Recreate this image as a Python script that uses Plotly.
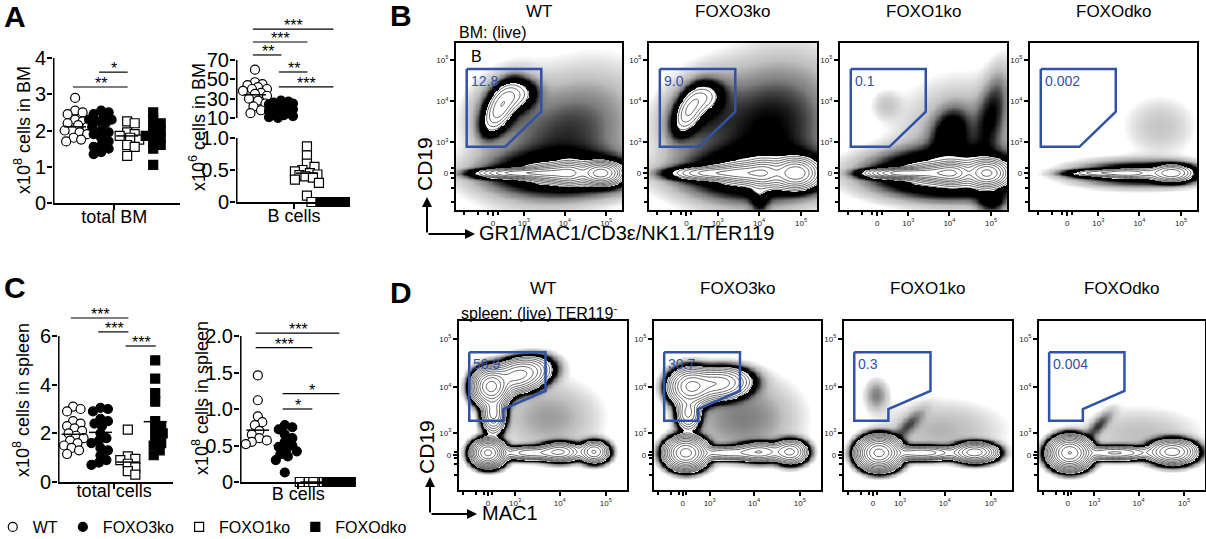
import numpy as np
import plotly.graph_objects as go

W, H = 1206, 539
FONT = "Liberation Sans, Arial, sans-serif"
BLUE = "#3053a8"

groups = ["WT", "FOXO3ko", "FOXO1ko", "FOXOdko"]

# A: bone marrow, total cells (x10^8)
bm_total_wt = [2.9, 2.55, 2.5, 2.45, 2.3, 2.25, 2.2, 2.15, 2.1, 2.0, 2.0, 1.95, 1.9, 1.8, 1.75, 1.7]
bm_total_foxo3 = [2.55, 2.5, 2.45, 2.4, 2.3, 2.3, 2.25, 2.2, 2.1, 2.0, 1.95, 1.9, 1.8, 1.7, 1.6, 1.55, 1.5, 1.4, 1.35]
bm_total_foxo1 = [2.25, 2.2, 1.95, 1.9, 1.85, 1.8, 1.75, 1.6, 1.55, 1.3]
bm_total_dko = [2.5, 2.3, 2.2, 2.1, 2.0, 1.9, 1.85, 1.8, 1.7, 1.6, 1.5, 1.05]
bm_total_mean = [2.1, 2.0, 1.85, 1.92]

# A: bone marrow B cells (x10^6)
bm_b_wt = [60, 47, 45, 44, 42, 40, 40, 38, 36, 35, 33, 30, 28, 25, 22, 18, 15]
bm_b_foxo3 = [28, 27, 26, 25, 24, 23, 22, 21, 20, 19, 18, 17, 16, 15, 14, 13, 12, 11, 10]
bm_b_foxo1 = [0.87, 0.73, 0.6, 0.55, 0.5, 0.48, 0.45, 0.43, 0.42, 0.4, 0.38, 0.35, 0.3, 0.1, 0.0]
bm_b_dko = [0, 0, 0, 0, 0, 0, 0, 0, 0, 0, 0, 0]
bm_b_mean = [34, 20, 0.45, 0.0]

# C: spleen, total cells (x10^8)
sp_total_wt = [3.1, 3.0, 2.9, 2.5, 2.4, 2.3, 2.2, 2.1, 2.0, 1.9, 1.8, 1.7, 1.6, 1.5, 1.4, 1.3, 1.15]
sp_total_foxo3 = [3.05, 3.0, 2.9, 2.6, 2.5, 2.4, 2.3, 2.0, 1.8, 1.7, 1.6, 1.4, 1.3, 1.1, 0.9, 0.8, 0.7]
sp_total_foxo1 = [2.15, 1.05, 0.95, 0.9, 0.75, 0.6, 0.45, 0.3]
sp_total_dko = [5.0, 4.25, 3.65, 3.3, 2.5, 2.3, 2.1, 2.0, 1.8, 1.6, 1.5, 1.3, 1.1]
sp_total_mean = [1.96, 2.04, 0.82, 2.48]

# C: spleen B cells (x10^8)
sp_b_wt = [1.46, 1.12, 0.9, 0.82, 0.78, 0.7, 0.65, 0.6, 0.57, 0.55, 0.52]
sp_b_foxo3 = [0.78, 0.75, 0.72, 0.65, 0.6, 0.55, 0.5, 0.48, 0.45, 0.42, 0.38, 0.35, 0.3, 0.13]
sp_b_foxo1 = [0, 0, 0, 0, 0, 0, 0, 0]
sp_b_dko = [0, 0, 0, 0, 0, 0, 0, 0, 0, 0, 0, 0, 0]
sp_b_mean = [0.71, 0.5, 0.0, 0.0]

# significance: compared groups and stars
bm_total_pairs = [(1, 2), (0, 2)]
bm_total_stars = ["*", "**"]
bm_b_pairs = [(0, 3), (0, 2), (0, 1), (1, 2), (1, 3)]
bm_b_stars = ["***", "***", "**", "**", "***"]
sp_total_pairs = [(0, 2), (1, 2), (2, 3)]
sp_total_stars = ["***", "***", "***"]
sp_b_pairs = [(0, 3), (0, 2), (1, 3), (1, 2)]
sp_b_stars = ["***", "***", "*", "*"]

# flow gates (fluorescence values) and gate frequencies
bm_gate_x = [-750, 2700, 2700, 270, -750]
bm_gate_y = [60000, 60000, 5600, 750, 750]
sp_gate_x = [-600, 4900, 4900, 470, 470, -600]
sp_gate_y = [53000, 53000, 8400, 3500, 1950, 1950]
bm_gate_pct = ["12.8", "9.0", "0.1", "0.002"]
sp_gate_pct = ["58.9", "30.7", "0.3", "0.004"]

# flow populations: (x value, y value, x spread, y spread, correlation, fraction)
bm_pops_wt = [
    (150, 6800, 0.5, 0.7, 0.55, 0.08),
    (560, 13600, 0.6, 0.45, 0.2, 0.035),
    (190, 8100, 1.1, 1.1, 0.3, 0.025),
    (790, 0, 1.2, 0.15, 0.0, 0.1),
    (5000, 0, 0.8, 0.25, 0.0, 0.1),
    (13600, 0, 0.5, 0.32, 0.0, 0.08),
    (74600, 0, 0.55, 0.3, 0.0, 0.2),
    (10100, 0, 2.5, 0.7, 0.0, 0.12),
    (10100, 1340, 2.4, 2.1, 0.3, 0.12),
]
bm_pops_foxo3 = [
    (60, 6000, 0.45, 0.65, 0.5, 0.055),
    (435, 12000, 0.5, 0.45, 0.2, 0.025),
    (190, 6000, 1.2, 1.2, 0.3, 0.035),
    (790, 0, 1.2, 0.2, 0.0, 0.09),
    (5000, 0, 0.8, 0.3, 0.0, 0.1),
    (13600, 0, 0.5, 0.38, 0.0, 0.08),
    (74600, 0, 0.6, 0.4, 0.0, 0.22),
    (10100, 0, 2.5, 0.8, 0.0, 0.14),
    (15000, 2000, 2.3, 2.3, 0.2, 0.17),
    (10100, -630, 0.3, 0.5, 0.0, 0.006),
]
bm_pops_foxo1 = [
    (190, 8100, 0.5, 0.5, 0.0, 0.0015),
    (700, 0, 1.0, 0.15, 0.0, 0.12),
    (5000, 0, 0.8, 0.25, 0.0, 0.12),
    (12000, 0, 0.5, 0.3, 0.0, 0.1),
    (80000, 0, 0.55, 0.35, 0.0, 0.2),
    (10100, 0, 2.4, 0.75, 0.0, 0.2),
    (10100, 1650, 0.6, 0.8, 0.2, 0.02),
    (100700, 5000, 0.6, 1.5, 0.5, 0.02),
    (20000, 1340, 2.0, 1.8, 0.0, 0.05),
    (100700, -790, 0.5, 0.4, 0.0, 0.008),
]
bm_pops_dko = [
    (1000, 0, 1.0, 0.12, 0.0, 0.02),
    (6000, 0, 0.8, 0.15, 0.0, 0.025),
    (60000, 0, 0.6, 0.25, 0.0, 0.06),
    (10100, 0, 2.0, 0.4, 0.0, 0.05),
    (30330, 2500, 1.2, 1.0, 0.0, 0.008),
]
sp_pops_wt = [
    (84, 10300, 0.4, 0.38, 0.0, 0.28),
    (1183, 17870, 0.7, 0.38, 0.3, 0.15),
    (151, 2900, 0.28, 0.45, 0.0, 0.05),
    (0, 80, 0.36, 0.28, 0.0, 0.18),
    (2474, 80, 0.9, 0.17, 0.0, 0.03),
    (10150, 120, 0.5, 0.22, 0.0, 0.035),
    (55600, 120, 0.35, 0.25, 0.0, 0.03),
    (5560, 2354, 1.6, 1.1, 0.0, 0.01),
]
sp_pops_foxo3 = [
    (227, 10300, 0.5, 0.4, 0.0, 0.15),
    (1508, 12000, 0.75, 0.35, 0.1, 0.12),
    (151, 2900, 0.3, 0.4, 0.0, 0.03),
    (84, 80, 0.45, 0.33, 0.0, 0.28),
    (2474, 80, 0.9, 0.17, 0.0, 0.03),
    (13710, 120, 0.6, 0.22, 0.0, 0.04),
    (61440, 120, 0.4, 0.27, 0.0, 0.04),
    (5560, 2354, 1.7, 1.2, 0.0, 0.016),
]
sp_pops_foxo1 = [
    (84, 7040, 0.35, 0.45, 0.0, 0.0012),
    (168, 80, 0.45, 0.33, 0.0, 0.4),
    (3000, 80, 1.0, 0.17, 0.0, 0.05),
    (45000, 100, 0.5, 0.22, 0.0, 0.07),
    (1508, 1522, 0.5, 0.5, 0.8, 0.0012),
    (8000, 1200, 2.0, 0.9, 0.0, 0.008),
]
sp_pops_dko = [
    (56, 80, 0.45, 0.33, 0.0, 0.35),
    (3000, 80, 1.0, 0.17, 0.0, 0.04),
    (55600, 120, 0.55, 0.27, 0.0, 0.09),
    (1200, 1500, 0.45, 0.45, 0.8, 0.0012),
    (10000, 1000, 2.0, 0.8, 0.0, 0.006),
]

MARK = {
    "WT": dict(symbol="circle", color="white", line=dict(color="black", width=1.2)),
    "FOXO3ko": dict(symbol="circle", color="black", line=dict(color="black", width=1.2)),
    "FOXO1ko": dict(symbol="square", color="white", line=dict(color="black", width=1.2)),
    "FOXOdko": dict(symbol="square", color="black", line=dict(color="black", width=1.2)),
}

fig = go.Figure()
layout = {}
shapes = []
annotations = []


def xdom(a, b):
    return [a / W, b / W]


def ydom(bottom, top):
    return [1 - bottom / H, 1 - top / H]


def ref(n, letter):
    return letter if n == 1 else f"{letter}{n}"


def axkey(n, letter):
    return f"{letter}axis" if n == 1 else f"{letter}axis{n}"


def swarm(vals, kx, ky, size=9, maxoff=12):
    # spread overlapping points sideways, like a prism scatter plot
    cands = [0.0]
    for k in range(1, 9):
        cands += [k * 1.5, -k * 1.5]
    placed, offs = [], []
    for v in vals:
        y = v * ky
        best, best_gap = 0.0, -1
        for dx in cands:
            if abs(dx) > maxoff:
                continue
            gap = min([np.hypot(dx - px, y - py) for px, py in placed] or [99])
            if gap >= 0.8 * size:
                best = dx
                break
            if gap > best_gap:
                best, best_gap = dx, gap
        placed.append((best, y))
        offs.append(best / kx)
    return offs


def dot_axes(n, xpx, ypx, xr, yr, yticks, ytext, spine_top, xlabel=None, xstand=-8):
    show_x = xlabel is not None
    layout[axkey(n, "x")] = dict(
        domain=xdom(*xpx), range=xr, anchor=ref(n, "y"), visible=show_x,
        showline=True, linewidth=1.5, linecolor="black", ticks="outside",
        tickvals=[1.5], ticktext=[xlabel or ""], ticklen=5, tickwidth=1.5,
        tickcolor="black", tickfont=dict(size=18), ticklabelstandoff=xstand,
        showgrid=False, zeroline=False)
    layout[axkey(n, "y")] = dict(
        domain=ydom(*ypx), range=yr, anchor=ref(n, "x"), showline=False,
        ticks="outside", tickvals=yticks, ticktext=ytext, ticklen=5, tickwidth=1.5,
        tickcolor="black", tickfont=dict(size=20), ticklabelstandoff=-3,
        showgrid=False, zeroline=False)
    shapes.append(dict(type="line", xref=ref(n, "x"), yref=ref(n, "y"),
                       x0=xr[0] + 0.03, x1=xr[0] + 0.03, y0=yr[0], y1=spine_top,
                       line=dict(color="black", width=1.5)))


def add_dots(n, series, means, which, xpx, ypx, xr, yr, legend=False):
    kx = (xpx[1] - xpx[0]) / (xr[1] - xr[0])
    ky = (ypx[0] - ypx[1]) / (yr[1] - yr[0])
    for i in which:
        vals = series[i]
        offs = swarm(vals, kx, ky)
        fig.add_trace(go.Scatter(
            x=[i + o for o in offs], y=vals, mode="markers", name=groups[i],
            legendgroup=groups[i], showlegend=legend, cliponaxis=False,
            marker=dict(size=9, **MARK[groups[i]]), hoverinfo="skip",
            xaxis=ref(n, "x"), yaxis=ref(n, "y")))
        shapes.append(dict(type="line", xref=ref(n, "x"), yref=ref(n, "y"),
                           x0=i - 0.42, x1=i + 0.42, y0=means[i], y1=means[i],
                           line=dict(color="black", width=1.5)))


def add_sig(n, pairs, stars, levels):
    for (i, j), s, lv in zip(pairs, stars, levels):
        shapes.append(dict(type="line", xref=ref(n, "x"), yref=ref(n, "y"),
                           x0=i - 0.08, x1=j + 0.02, y0=lv, y1=lv,
                           line=dict(color="black", width=1.2)))
        annotations.append(dict(x=(i + j) / 2, y=lv, xref=ref(n, "x"), yref=ref(n, "y"),
                                text=s, showarrow=False, yanchor="bottom", yshift=-7,
                                font=dict(size=16)))


# ---- A, left: total BM
xp, yp, xr, yr = (53, 180), (203, 58), [-0.85, 4.03], [0, 4]
dot_axes(1, xp, yp, xr, yr, [0, 1, 2, 3, 4], ["0", "1", "2", "3", "4"], 4, "total BM")
add_dots(1, [bm_total_wt, bm_total_foxo3, bm_total_foxo1, bm_total_dko], bm_total_mean,
         range(4), xp, yp, xr, yr, legend=True)
add_sig(1, bm_total_pairs, bm_total_stars, [3.61, 3.2])

# ---- A, right: B cells in BM (broken axis)
bm_b = [bm_b_wt, bm_b_foxo3, bm_b_foxo1, bm_b_dko]
xp, yp, xr, yr = (236, 348), (202, 138), [-0.73, 3.58], [0, 1]
dot_axes(2, xp, yp, xr, yr, [0, 0.5, 1.0], ["0", "0.5", "1.0"], 1.0, "B cells")
add_dots(2, bm_b, bm_b_mean, [2, 3], xp, yp, xr, yr)
yp, yr = (118, 18), [10, 10 + 100 / 0.9667]
dot_axes(3, xp, yp, xr, yr, [10, 30, 50, 70], ["10", "30", "50", "70"], 70)
add_dots(3, bm_b, bm_b_mean, [0, 1], xp, yp, xr, yr)
add_sig(3, bm_b_pairs, bm_b_stars, [102, 88.6, 75.2, 57.6, 42.1])

# ---- C, left: total spleen
xp, yp, xr, yr = (58, 173), (482, 307), [-0.55, 3.65], [0, 175 / 24.33]
dot_axes(4, xp, yp, xr, yr, [0, 2, 4, 6], ["0", "2", "4", "6"], 6, "total cells", xstand=-13)
add_dots(4, [sp_total_wt, sp_total_foxo3, sp_total_foxo1, sp_total_dko], sp_total_mean,
         range(4), xp, yp, xr, yr)
add_sig(4, sp_total_pairs, sp_total_stars, [6.74, 6.17, 5.59])

# ---- C, right: spleen B cells
xp, yp, xr, yr = (240, 355), (482, 321), [-0.66, 3.6], [0, 161 / 73]
dot_axes(5, xp, yp, xr, yr, [0, 0.5, 1.0, 1.5, 2.0], ["0", "0.5", "1.0", "1.5", "2.0"], 2.0,
         "B cells", xstand=-10)
add_dots(5, [sp_b_wt, sp_b_foxo3, sp_b_foxo1, sp_b_dko], sp_b_mean, range(4), xp, yp, xr, yr)
add_sig(5, sp_b_pairs, sp_b_stars, [2.04, 1.84, 1.21, 1.0])


# ---- flow plots (B, D)
def biex(width):
    return lambda v: np.arcsinh(np.asarray(v, dtype=float) / width)


def flow_panel(n, xpx, ypx, xr, yr, tx, ty, pops, gx, gy, pct, look):
    g0, blk, c0, step = look
    ux = np.linspace(xr[0], xr[1], 140)
    uy = np.linspace(yr[0], yr[1], 140)
    X, Y = np.meshgrid(ux, uy)
    dens = np.zeros_like(X)
    for cx, cy, sx, sy, rho, w in pops:
        dx = (X - tx(cx)) / sx
        dy = (Y - ty(cy)) / sy
        q = (dx ** 2 - 2 * rho * dx * dy + dy ** 2) / (1 - rho ** 2)
        dens += w * np.exp(-q / 2) / (2 * np.pi * sx * sy * np.sqrt(1 - rho ** 2))
    z = np.round(np.log10(dens + 1e-8), 3)
    zmin, zmax = np.log10(g0), np.log10(c0)
    cs = []
    for d in [g0, 0.25 * blk, 0.5 * blk, blk]:
        g = int(255 * (1 - min(d / blk, 1)))
        cs.append([(np.log10(d) - zmin) / (zmax - zmin), f"rgb({g},{g},{g})"])
    cs[0][1] = "rgb(255,255,255)"
    cs += [[0.99, "rgb(0,0,0)"], [1, "rgb(255,255,255)"]]
    xa, ya = ref(n, "x"), ref(n, "y")
    fig.add_trace(go.Heatmap(x=ux, y=uy, z=z, zmin=zmin, zmax=zmax, colorscale=cs,
                             zsmooth="best", showscale=False, hoverinfo="skip",
                             showlegend=False, xaxis=xa, yaxis=ya))
    fig.add_trace(go.Contour(x=ux, y=uy, z=z, autocontour=False,
                             contours=dict(start=zmax, end=float(z.max()), size=step,
                                           coloring="none"),
                             line=dict(color="black", width=0.6, smoothing=1),
                             showscale=False, showlegend=False, hoverinfo="skip",
                             xaxis=xa, yaxis=ya))
    fig.add_trace(go.Scatter(x=tx(gx + gx[:1]), y=ty(gy + gy[:1]), mode="lines",
                             line=dict(color=BLUE, width=2.5), showlegend=False,
                             hoverinfo="skip", xaxis=xa, yaxis=ya))
    annotations.append(dict(x=float(tx(gx[0])), y=float(ty(gy[0])), xref=xa, yref=ya,
                            text=pct, showarrow=False, xanchor="left", yanchor="top",
                            xshift=2, yshift=-2, font=dict(size=14, color=BLUE)))
    tickv = [0, 1e3, 1e4, 1e5]
    tickt = ["0", "10<sup>3</sup>", "10<sup>4</sup>", "10<sup>5</sup>"]
    minor = [-900, -350, -100, 100]
    for letter, dom, rng, tf in (("x", xdom(*xpx), xr, tx), ("y", ydom(*ypx), yr, ty)):
        layout[axkey(n, letter)] = dict(
            domain=dom, range=rng, anchor=ref(n, "y" if letter == "x" else "x"),
            showline=True, mirror=True, linewidth=2.2, linecolor="black",
            ticks="outside", ticklen=4, tickwidth=2, tickcolor="black",
            tickvals=list(tf(tickv)), ticktext=tickt, tickfont=dict(size=8, color="#222"),
            minor=dict(tickvals=list(tf(minor)), ticks="outside", ticklen=3,
                       tickwidth=1.5, tickcolor="black"),
            showgrid=False, zeroline=False)


bm_xpx = [(456, 622), (649, 817), (840, 1007), (1030, 1197)]
sp_xpx = [(459, 627), (654, 821), (844, 1012), (1039, 1205)]
bm_pops = [bm_pops_wt, bm_pops_foxo3, bm_pops_foxo1, bm_pops_dko]
sp_pops = [sp_pops_wt, sp_pops_foxo3, sp_pops_foxo1, sp_pops_dko]
tb = biex(370)


def paper_text(x, y, text, size, anchor="center", angle=0):
    annotations.append(dict(x=x / W, y=1 - y / H, xref="paper", yref="paper", text=text,
                            showarrow=False, xanchor=anchor, yanchor="middle",
                            textangle=angle, font=dict(size=size)))


def paper_arrow(x, y, ax, ay):
    annotations.append(dict(x=x / W, y=1 - y / H, xref="paper", yref="paper", text="",
                            showarrow=True, ax=ax, ay=ay, arrowhead=2, arrowsize=1,
                            arrowwidth=2, arrowcolor="black"))


for k in range(4):
    flow_panel(6 + k, bm_xpx[k], (210, 43), [-2.05, 7.17], [-2.05, 7.22], tb, tb,
               bm_pops[k], bm_gate_x, bm_gate_y, bm_gate_pct[k], (2.5e-4, 5e-3, 1.2e-2, 0.16))
    flow_panel(10 + k, sp_xpx[k], (490, 321), [-1.45, 6.95], [-1.67, 6.38], biex(555), biex(800),
               sp_pops[k], sp_gate_x, sp_gate_y, sp_gate_pct[k], (1.5e-4, 2.5e-3, 5e-3, 0.17))
    paper_text(sum(bm_xpx[k]) / 2, 11, groups[k], 17)
    paper_text(sum(sp_xpx[k]) / 2, 288, groups[k], 17)

# panel letters
for letter, x, y in (("A", 15, 17), ("B", 401, 16), ("C", 15, 287), ("D", 401, 292)):
    paper_text(x, y, f"<b>{letter}</b>", 30)

# dot plot axis titles
paper_text(22, 130, "x10<sup>8</sup> cells in BM", 18, angle=-90)
paper_text(197, 127, "x10<sup>6</sup> cells in BM", 18, angle=-90)
paper_text(22, 400, "x10<sup>8</sup> cells in spleen", 18, angle=-90)
paper_text(200, 398, "x10<sup>8</sup> cells in spleen", 18, angle=-90)

# flow labels
paper_text(457, 33, "BM: (live)", 16, anchor="left")
paper_text(477, 57, "B", 16)
paper_text(459, 312, "spleen: (live) TER119<sup>-</sup>", 16, anchor="left")
paper_text(424, 164, "CD19", 21, angle=-90)
paper_text(426, 447, "CD19", 21, angle=-90)
paper_text(477, 233, "GR1/MAC1/CD3\u03b5/NK1.1/TER119", 20, anchor="left")
paper_text(480, 513, "MAC1", 20, anchor="left")
paper_arrow(427, 197, 0, 37)
paper_arrow(475, 234, -48, 0)
paper_arrow(430, 477, 0, 37)
paper_arrow(477, 514, -47, 0)

fig.update_layout(
    width=W, height=H, margin=dict(l=0, r=0, t=0, b=0, autoexpand=False),
    paper_bgcolor="white", plot_bgcolor="rgba(0,0,0,0)",
    font=dict(family=FONT, color="black"),
    hovermode=False, shapes=shapes, annotations=annotations,
    legend=dict(orientation="h", x=-0.006, xanchor="left", y=1 - 527 / H, yanchor="middle",
                font=dict(size=16), itemwidth=30, bgcolor="rgba(0,0,0,0)", tracegroupgap=0),
    **layout,
)

fig.write_html("out.html", config={"displayModeBar": False},
               post_script="document.body.style.margin='0';")
